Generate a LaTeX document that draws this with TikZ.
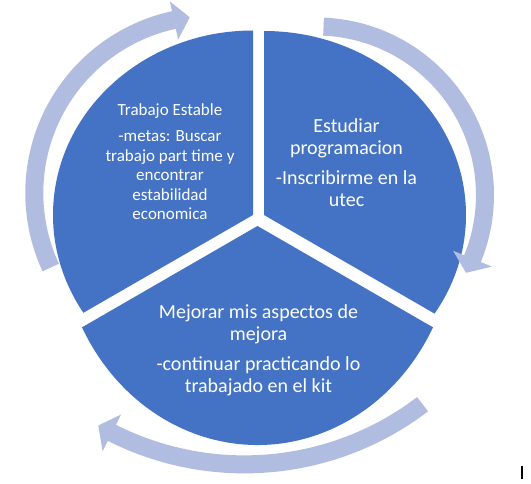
\documentclass[tikz,border=0pt]{standalone}
\usepackage{fontspec}
\setmainfont{Carlito}
\definecolor{pieblue}{HTML}{4472C4}
\definecolor{arrowblue}{RGB}{176,189,224}
\tikzset{
  sector/.style={fill=pieblue},
  cyclearrow/.style={fill=arrowblue},
  smalltxt/.style={text=white, font=\fontsize{17}{19.5}\selectfont, anchor=base, inner sep=0pt},
  bigtxt/.style={text=white, font=\fontsize{20}{22}\selectfont, anchor=base, inner sep=0pt}
}
\begin{document}
\begin{tikzpicture}[x=1pt,y=1pt]
\fill[white] (0,0) rectangle (531,483);
\useasboundingbox (0,0) rectangle (531,483);

% pie sectors
\fill[sector] (253,268) -- (253,452.5) arc[start angle=90, end angle=212, x radius=200pt, y radius=184.5pt] -- cycle;
\fill[sector] (264,268) -- (264,452) arc[start angle=90, end angle=-32.4, x radius=202pt, y radius=184pt] -- cycle;
\fill[sector] (257.5,257) -- ++(207.57:198pt and 219pt) arc[start angle=207.57, end angle=332.43, x radius=198pt, y radius=219pt] -- cycle;

% circular arrows
\begin{scope}[shift={(211.3,290)}]
\fill[cyclearrow] (204.9:186pt) arc[start angle=204.9, end angle=102.2, radius=186pt]
  -- (102.2:196pt) -- (97:177pt) -- (102.2:157pt) -- (102.2:168pt)
  arc[start angle=102.2, end angle=204.9, radius=168pt] -- cycle;
\end{scope}
\begin{scope}[shift={(316.5,288)}]
\fill[cyclearrow] (87.6:177.5pt) arc[start angle=87.6, end angle=-22.2, radius=177.5pt]
  -- (-22.2:189.5pt) -- (-27.5:168.5pt) -- (-22.2:147.5pt) -- (-22.2:159.5pt)
  arc[start angle=-22.2, end angle=87.6, radius=159.5pt] -- cycle;
\end{scope}
\begin{scope}[shift={(244.4,312.6)}]
\fill[cyclearrow] (-52.7:303pt) arc[start angle=-52.7, end angle=-116.8, radius=303pt]
  -- (-116.8:314.5pt) -- (-119.8:294pt) -- (-116.8:273.5pt) -- (-116.8:285pt)
  arc[start angle=-116.8, end angle=-52.7, radius=285pt] -- cycle;
\end{scope}

% texts
\node[smalltxt] (tl1) at (170,367) {Trabajo Estable};
\node[smalltxt] (tl2) at (170,341) {-metas: Buscar};
\node[smalltxt] (tl3) at (170,321.7) {trabajo part time y};
\node[smalltxt] (tl4) at (170,302) {encontrar};
\node[smalltxt] (tl5) at (170,282.7) {estabilidad};
\node[smalltxt] (tl6) at (170,263.7) {economica};

\node[bigtxt] (tr1) at (346.5,350.5) {Estudiar};
\node[bigtxt] (tr2) at (346.5,328.2) {programacion};
\node[bigtxt] (tr3) at (346.5,298.2) {-Inscribirme en la};
\node[bigtxt] (tr4) at (346.5,276.5) {utec};

\node[bigtxt] (b1) at (258.5,164.8) {Mejorar mis aspectos de};
\node[bigtxt] (b2) at (258.5,142.2) {mejora};
\node[bigtxt] (b3) at (258.5,112.2) {-continuar practicando lo};
\node[bigtxt] (b4) at (258.5,90.5) {trabajado en el kit};

% cursor mark
\draw[black, line width=1.2pt] (522,4) -- (522,17);
\end{tikzpicture}
\end{document}
